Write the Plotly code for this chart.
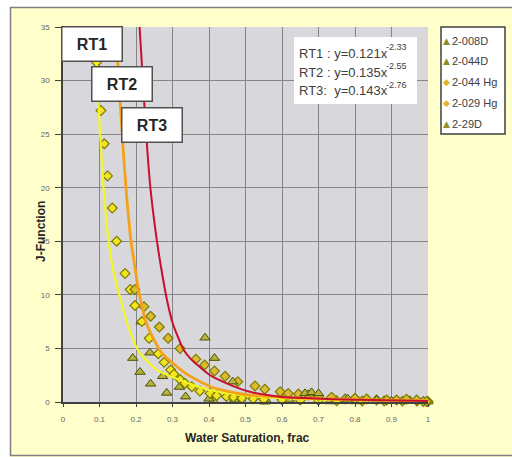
import plotly.graph_objects as go

# ---------------- data ----------------
# trend curves
rt1_x = [0.088, 0.092, 0.100, 0.110, 0.124, 0.138, 0.156, 0.179, 0.206, 0.257, 0.348, 0.403, 0.512, 0.649, 0.80, 1.0]
rt1_y = [35.5, 31.7, 26.0, 20.5, 15.3, 12.2, 9.8, 7.0, 4.8, 3.0, 1.7, 1.1, 0.56, 0.30, 0.18, 0.12]

rt2_x = [0.142, 0.150, 0.165, 0.173, 0.186, 0.197, 0.206, 0.229, 0.270, 0.339, 0.403, 0.458, 0.512, 0.649, 0.80, 1.0]
rt2_y = [35.5, 31.7, 23.5, 19.8, 15.1, 12.6, 10.6, 7.3, 4.6, 2.6, 1.45, 0.95, 0.65, 0.37, 0.22, 0.12]

rt3_x = [0.207, 0.210, 0.231, 0.240, 0.257, 0.270, 0.285, 0.301, 0.330, 0.348, 0.403, 0.458, 0.512, 0.595, 0.677, 0.80, 1.0]
rt3_y = [37.0, 34.9, 23.5, 19.8, 15.1, 12.3, 9.5, 7.3, 4.9, 4.1, 2.5, 1.6, 0.95, 0.50, 0.35, 0.20, 0.10]

# measured samples
s008d_x = [0.191, 0.211, 0.240, 0.284, 0.336, 0.412, 0.558, 0.731, 0.80, 0.90, 0.95, 1.0]
s008d_y = [4.1, 2.8, 1.7, 0.85, 0.5, 0.12, 0.10, 0.05, 0.05, 0.10, 0.15, 0.05]

s044d_x = [0.214, 0.238, 0.273, 0.319, 0.40, 0.47, 0.553, 0.62]
s044d_y = [7.5, 4.6, 2.4, 1.4, 0.3, 0.2, 0.03, 0.2]

s29d_x = [0.389, 0.415, 0.465, 0.663, 0.681, 0.700, 0.78, 0.86]
s29d_y = [6.0, 4.1, 1.9, 0.8, 0.9, 0.8, 0.3, 0.2]

s044hg_x = [0.092, 0.104, 0.113, 0.122, 0.135, 0.147, 0.170, 0.184, 0.197, 0.216, 0.236, 0.261, 0.277,
            0.295, 0.304, 0.321, 0.334, 0.353, 0.375, 0.403, 0.421, 0.448, 0.467, 0.490, 0.521, 0.55,
            0.60, 0.65, 0.70, 0.75, 0.82, 0.88, 0.93, 0.97, 1.0]
s044hg_y = [31.7, 27.2, 24.1, 21.1, 18.1, 15.0, 12.0, 10.5, 9.0, 7.5, 5.95, 4.5, 3.7,
            3.0, 2.6, 2.1, 1.75, 1.43, 1.03, 0.8, 0.6, 0.5, 0.44, 0.35, 0.3, 0.25,
            0.2, 0.18, 0.15, 0.12, 0.1, 0.1, 0.08, 0.1, 0.05]

s029hg_x = [0.197, 0.222, 0.240, 0.264, 0.288, 0.321, 0.364, 0.388, 0.415, 0.444, 0.479, 0.526, 0.553,
            0.595, 0.617, 0.645, 0.672, 0.700, 0.736, 0.773, 0.800, 0.832, 0.859, 0.887, 0.914, 0.941,
            0.969, 0.987, 0.996]
s029hg_y = [10.5, 8.9, 8.0, 7.0, 5.95, 5.0, 4.0, 3.45, 2.9, 2.4, 1.9, 1.5, 1.2,
            0.96, 0.8, 0.75, 0.65, 0.56, 0.44, 0.28, 0.35, 0.28, 0.19, 0.19, 0.19, 0.25,
            0.19, 0.05, 0.05]

legend_names = ["2-008D", "2-044D", "2-044 Hg", "2-029 Hg", "2-29D"]
eq_bases = ["RT1 : y=0.121x", "RT2 : y=0.135x", "RT3:  y=0.143x"]
eq_exponents = ["-2.33", "-2.55", "-2.76"]
rt_labels = ["RT1", "RT2", "RT3"]
rt_label_pos = [(0.0795, 33.4), (0.162, 29.7), (0.244, 25.9)]

# ---------------- styling ----------------
TRI_FILL, TRI_LINE = "#B4B43E", "#4D4D00"
DIA1_FILL, DIA2_FILL, DIA_LINE = "#F2E41E", "#DDBB2E", "#7A7A00"

fig = go.Figure()

def tri(x, y, name):
    fig.add_trace(go.Scatter(x=x, y=y, mode="markers", name=name, cliponaxis=False,
                             marker=dict(symbol="triangle-up", size=9, color=TRI_FILL,
                                         line=dict(color=TRI_LINE, width=1))))

def dia(x, y, name, fill):
    fig.add_trace(go.Scatter(x=x, y=y, mode="markers", name=name, cliponaxis=False,
                             marker=dict(symbol="diamond", size=7.5, color=fill,
                                         line=dict(color=DIA_LINE, width=1.2))))

tri(s008d_x, s008d_y, legend_names[0])
tri(s044d_x, s044d_y, legend_names[1])
dia(s044hg_x, s044hg_y, legend_names[2], DIA1_FILL)
dia(s029hg_x, s029hg_y, legend_names[3], DIA2_FILL)
tri(s29d_x, s29d_y, legend_names[4])

for xs, ys, col, w in [(rt1_x, rt1_y, "#F5F520", 2.2),
                       (rt2_x, rt2_y, "#F5A21A", 2.8),
                       (rt3_x, rt3_y, "#C8102E", 2.0)]:
    fig.add_trace(go.Scatter(x=xs, y=ys, mode="lines", showlegend=False,
                             line=dict(color=col, width=w, shape="spline", smoothing=0.6)))

W, H = 512, 457
L, R, T, B = 63, 84, 27, 55
pw, ph = W - L - R, H - T - B

def px(xp):
    return (xp - L) / pw

def py(yp):
    return (H - B - yp) / ph

shapes = []
annotations = []

# white strips outside the chart frame and frame border
shapes.append(dict(type="rect", xref="paper", yref="paper", x0=px(-5), x1=px(10), y0=py(470), y1=py(-5),
                   fillcolor="white", line=dict(width=0), layer="above"))
shapes.append(dict(type="rect", xref="paper", yref="paper", x0=px(-5), x1=px(520), y0=py(7), y1=py(-5),
                   fillcolor="white", line=dict(width=0), layer="above"))
shapes.append(dict(type="rect", xref="paper", yref="paper", x0=px(10.5), x1=px(520), y0=py(455.5), y1=py(7.5),
                   line=dict(color="#7F7F7F", width=1.5), layer="above"))

# equation box
shapes.append(dict(type="rect", xref="paper", yref="paper", x0=px(294), x1=px(417), y0=py(104), y1=py(37),
                   fillcolor="white", line=dict(width=0), layer="above"))
for base, expo, yy in zip(eq_bases, eq_exponents, [53, 72, 91]):
    annotations.append(dict(xref="paper", yref="paper", x=px(390), y=py(yy), xanchor="right", yanchor="middle",
                            text=base, showarrow=False,
                            font=dict(family="Liberation Sans", size=13, color="#404040")))
    annotations.append(dict(xref="paper", yref="paper", x=px(384), y=py(yy - 6), xanchor="left", yanchor="middle",
                            text=expo, showarrow=False,
                            font=dict(family="Liberation Sans", size=9, color="#404040")))

# legend box
shapes.append(dict(type="rect", xref="paper", yref="paper", x0=px(441), x1=px(505), y0=py(134), y1=py(27),
                   fillcolor="white", line=dict(color="#404040", width=1.5), layer="above"))
leg_syms = [("▲", "#8E8E22"), ("▲", "#8E8E22"), ("◆", "#E0B52A"), ("◆", "#E0B52A"), ("▲", "#8E8E22")]
for name, (sym, col), yy in zip(legend_names, leg_syms, [41, 61, 82, 103, 124]):
    annotations.append(dict(xref="paper", yref="paper", x=px(446), y=py(yy), xanchor="center", yanchor="middle",
                            text=sym, showarrow=False,
                            font=dict(family="DejaVu Sans", size=9, color=col)))
    annotations.append(dict(xref="paper", yref="paper", x=px(450), y=py(yy), xanchor="left", yanchor="middle",
                            text=name, showarrow=False,
                            font=dict(family="Liberation Sans", size=11, color="#404040")))

# RT boxes
for lab, (xx, yy) in zip(rt_labels, rt_label_pos):
    annotations.append(dict(xref="x", yref="y", x=xx, y=yy, text=lab, showarrow=False,
                            width=57, height=31, bgcolor="white", bordercolor="#505050", borderwidth=1.5,
                            font=dict(family="Liberation Sans", size=16, color="#262626", weight="bold")))

# axis titles
annotations.append(dict(xref="paper", yref="paper", x=px(32), y=py(232), text="J-Function",
                        textangle=-90, showarrow=False,
                        font=dict(family="Liberation Sans", size=12, color="#262626", weight="bold")))
annotations.append(dict(xref="paper", yref="paper", x=px(247), y=py(447), text="Water Saturation, frac",
                        showarrow=False,
                        font=dict(family="Liberation Sans", size=12, color="#262626", weight="bold")))

fig.update_layout(
    width=W, height=H, margin=dict(l=L, r=R, t=T, b=B, pad=0),
    paper_bgcolor="#FFFFCC", plot_bgcolor="#D8D8DC",
    showlegend=False, shapes=shapes, annotations=annotations,
    font=dict(family="Liberation Sans"),
)
fig.update_xaxes(range=[0, 1], dtick=0.1, tick0=0, showgrid=True, gridcolor="#858585", gridwidth=1,
                 zeroline=False, showline=True, linecolor="#404040", linewidth=1.5,
                 ticks="outside", ticklen=3, tickcolor="#404040", ticklabelstandoff=6,
                 tickfont=dict(size=8, color="#666666"), fixedrange=True)
fig.update_yaxes(range=[0, 35], dtick=5, tick0=0, showgrid=True, gridcolor="#858585", gridwidth=1,
                 zeroline=False, showline=True, linecolor="#404040", linewidth=1.5,
                 ticks="outside", ticklen=6, tickcolor="#404040", ticklabelstandoff=4,
                 tickfont=dict(size=8, color="#666666"), fixedrange=True)

fig.write_html("out.html")
